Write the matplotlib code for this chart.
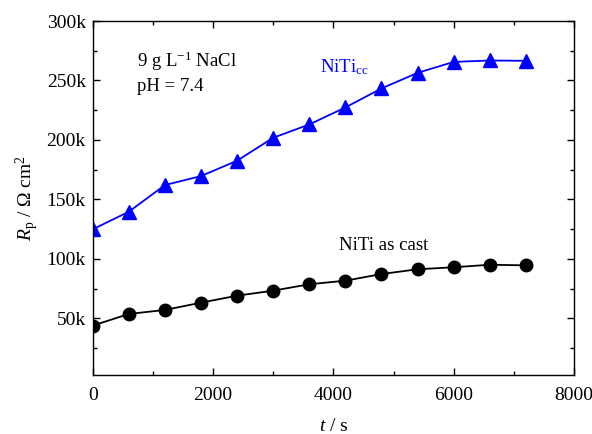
import matplotlib
matplotlib.use("Agg")
import matplotlib.pyplot as plt
from matplotlib.ticker import MultipleLocator, FuncFormatter

plt.rcParams.update({
    "font.family": ["Liberation Serif", "DejaVu Serif"],
    "mathtext.fontset": "custom",
    "mathtext.rm": "Liberation Serif",
    "mathtext.it": "Liberation Serif:italic",
    "font.size": 14,
})

time_s = [0, 600, 1200, 1800, 2400, 3000, 3600, 4200, 4800, 5400, 6000, 6600, 7200]
rp_cast = [43800, 53600, 57000, 63100, 69000, 73200, 78600, 81600, 87200, 91200, 92900, 95000, 94500]
rp_cc = [124800, 139600, 162000, 169600, 182500, 201800, 213000, 227300, 243300, 256400, 265600, 266800, 266500]

fig = plt.figure(figsize=(5.92, 4.34), dpi=100)
ax = fig.add_axes([0.1566, 0.136, 0.813, 0.8156])

ax.plot(time_s, rp_cc, color="#0000ff", lw=1.3, marker="^", ms=9.5, mec="#0000ff", mfc="#0000ff")
ax.plot(time_s, rp_cast, color="black", lw=1.3, marker="o", ms=9, mec="black", mfc="black")

ax.set_xlim(0, 8000)
ax.set_ylim(2300, 300000)
ax.xaxis.set_major_locator(MultipleLocator(2000))
ax.xaxis.set_minor_locator(MultipleLocator(1000))
ax.set_yticks([50000, 100000, 150000, 200000, 250000, 300000])
ax.yaxis.set_minor_locator(MultipleLocator(25000))
ax.yaxis.set_major_formatter(FuncFormatter(lambda v, p: f"{v/1000:.0f}k"))
ax.tick_params(which="both", direction="in", top=True, right=True, width=1.0)
ax.tick_params(which="major", length=5)
ax.tick_params(axis="x", which="major", pad=9)
ax.tick_params(axis="y", which="major", pad=5)
ax.tick_params(which="minor", length=3)
for s in ax.spines.values():
    s.set_linewidth(1.0)

ax.set_xlabel(r"$\it{t}$ / s", labelpad=10)
ax.set_ylabel(r"$\it{R}_{\rm p}$ / $\Omega$ cm$^2$", labelpad=4)

ax.text(0.092, 0.87, r"9 g L$^{-1}$ NaCl", transform=ax.transAxes, fontsize=13.5, va="baseline")
ax.text(0.092, 0.803, "pH = 7.4", transform=ax.transAxes, fontsize=13.5, va="baseline")
ax.text(0.472, 0.856, r"NiTi$_{\rm cc}$", transform=ax.transAxes, fontsize=13.5, color="#0000ff", va="baseline")
ax.text(0.511, 0.353, "NiTi as cast", transform=ax.transAxes, fontsize=13.5, va="baseline")

fig.savefig("out.png", dpi=100)
